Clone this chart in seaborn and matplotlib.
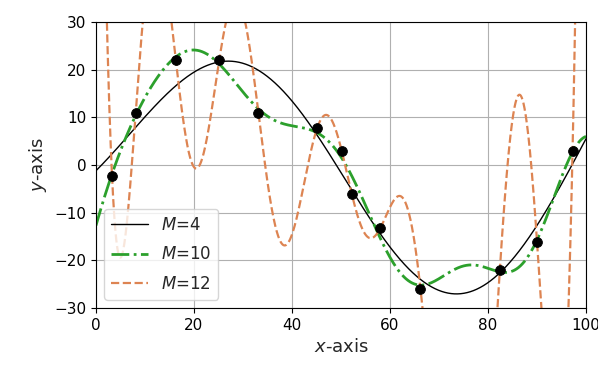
import numpy as np
import pandas as pd
import matplotlib
matplotlib.use("Agg")
import matplotlib.pyplot as plt
import seaborn as sns

# observed data points
x_obs = [3.27, 8.10, 16.30, 25.15, 33.15, 45.14, 50.13, 52.22, 58.05, 66.22, 82.41, 90.00, 97.25]
y_obs = [-2.20, 11.01, 21.99, 22.01, 10.99, 7.76, 3.03, -6.15, -13.17, -25.99, -22.01, -16.11, 2.90]

# number of Gaussian basis functions M (plus a bias term)
orders = [4, 10, 12]
labels = ["$M$=4", "$M$=10", "$M$=12"]
colors = ["black", "#2ca02c", "#dd8452"]
styles = ["-", "-.", "--"]
widths = [1.0, 2.0, 1.6]


def design(x, M):
    mu = np.linspace(0, 100, M)
    s = mu[1] - mu[0]
    x = np.asarray(x, float)[:, None]
    phi = np.exp(-(x - mu) ** 2 / (2 * s ** 2))
    return np.hstack([phi, np.ones((len(x), 1))])


def fit_gauss(M):
    Phi = design(x_obs, M)
    w, *_ = np.linalg.lstsq(Phi, np.asarray(y_obs, float), rcond=None)
    return lambda xs: design(xs, M) @ w


sns.set_style("white")
fig = plt.figure(figsize=(5.98, 3.65), dpi=100)
ax = fig.add_axes([0.1605, 0.156, 0.8195, 0.7837])

xx = np.linspace(0, 100, 2000)
for M, lab, c, ls, lw in zip(orders, labels, colors, styles, widths):
    f = fit_gauss(M)
    df = pd.DataFrame({"x": xx, "y": f(xx)})
    sns.lineplot(data=df, x="x", y="y", ax=ax, color=c, linestyle=ls, lw=lw, label=lab)

sns.scatterplot(x=x_obs, y=y_obs, ax=ax, color="black", s=50, zorder=5, edgecolor="black")

ax.set_xlim(0, 100)
ax.set_ylim(-30, 30)
ax.set_xticks([0, 20, 40, 60, 80, 100])
ax.set_yticks([-30, -20, -10, 0, 10, 20, 30])
ax.grid(True, color="#b0b0b0", lw=0.8)
ax.tick_params(axis="both", labelsize=11, direction="out", length=3.5, width=0.8, bottom=True, left=True, colors="black")
for s in ax.spines.values():
    s.set_color("black")
    s.set_linewidth(0.8)
ax.set_xlabel("$x$-axis", fontsize=13)
ax.set_ylabel("$y$-axis", fontsize=13)
ax.legend(loc="lower left", fontsize=12, frameon=True, handlelength=2.2,
          handletextpad=0.8, labelspacing=0.7, borderaxespad=0.5)

fig.savefig("out.png", dpi=100)
